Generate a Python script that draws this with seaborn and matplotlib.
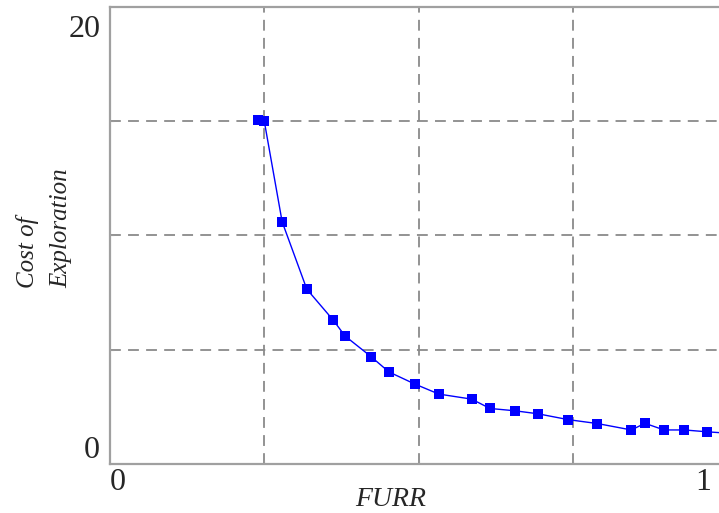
import numpy as np
import pandas as pd
import matplotlib
matplotlib.use("Agg")
import matplotlib.pyplot as plt
import seaborn as sns

# values
furr = [0.240, 0.250, 0.279, 0.319, 0.362, 0.381, 0.423, 0.452, 0.494, 0.533,
        0.586, 0.616, 0.656, 0.693, 0.743, 0.790, 0.845, 0.867, 0.898, 0.931,
        0.967, 1.000]
cost = [15.05, 15.01, 10.60, 7.65, 6.29, 5.60, 4.70, 4.03, 3.50, 3.06,
        2.84, 2.43, 2.33, 2.20, 1.94, 1.77, 1.49, 1.78, 1.49, 1.49,
        1.41, 1.35]
grid_x = [0.25, 0.5, 0.75]
grid_y = [5, 10, 15]

df = pd.DataFrame({"FURR": furr, "Cost": cost})

sns.set_style("white")
plt.rcParams["font.family"] = ["Liberation Serif", "DejaVu Serif"]

fig = plt.figure(figsize=(7.19, 5.13), dpi=100)
ax = fig.add_axes([110 / 719, 49 / 513, 617 / 719, 457 / 513])

ax.set_xlim(0, 1)
ax.set_ylim(0, 20)
ax.set_xticks(grid_x)
ax.set_yticks(grid_y)
ax.set_xticklabels([])
ax.set_yticklabels([])
ax.tick_params(direction="in", length=3, color="#999999", bottom=True, left=True)
ax.grid(True, color="#8a8a8a", linestyle=(0, (6, 4)), linewidth=1.3)

sns.lineplot(data=df, x="FURR", y="Cost", ax=ax, color="#0000ff", marker="s",
             markersize=6.5, markeredgewidth=0, linewidth=1.0, estimator=None,
             clip_on=True)

for side in ["left", "bottom", "top", "right"]:
    ax.spines[side].set_color("#a0a0a0")
    ax.spines[side].set_linewidth(1.6)

# tick labels in the Mathematica style
tick_fs = 23
ax.text(0.0, -0.008, "0", transform=ax.transAxes, ha="left", va="top", fontsize=tick_fs)
ax.text(0.975, -0.008, "1", transform=ax.transAxes, ha="right", va="top", fontsize=tick_fs)
ax.text(-0.016, 0.982, "20", transform=ax.transAxes, ha="right", va="top", fontsize=tick_fs)
ax.text(-0.016, 0.013, "0", transform=ax.transAxes, ha="right", va="baseline", fontsize=tick_fs)

ax.set_xlabel("")
ax.set_ylabel("")
fig.text(391 / 719, 1 - 500 / 513, "FURR", ha="center", va="center",
         fontsize=20, style="italic")
fig.text(44 / 719, 1 - 228 / 513, "Cost of\nExploration", ha="center", va="center",
         rotation=90, fontsize=18, style="italic", multialignment="left",
         linespacing=1.7)

fig.savefig("out.png", dpi=100)
